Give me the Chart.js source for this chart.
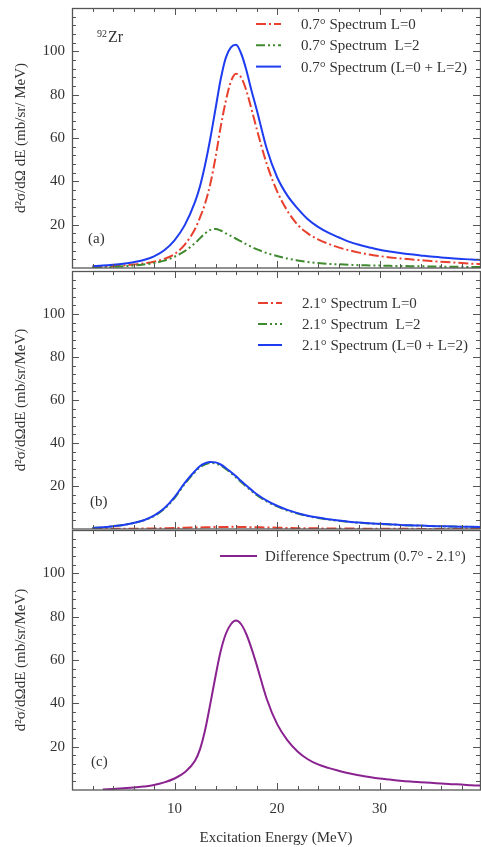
<!DOCTYPE html>
<html>
<head>
<meta charset="utf-8">
<script src="https://cdn.jsdelivr.net/npm/chart.js@4.4.0/dist/chart.umd.min.js"></script>
<style>
  html, body { margin: 0; padding: 0; background: #fff; }
  body { width: 481px; height: 847px; position: relative; overflow: hidden; }
  canvas { position: absolute; left: 0; }
  #chart1 { top: 0; }
  #chart2 { top: 270px; }
  #chart3 { top: 530px; }
</style>
</head>
<body>
<canvas id="chart1" width="481" height="270"></canvas>
<canvas id="chart2" width="481" height="260"></canvas>
<canvas id="chart3" width="481" height="317"></canvas>
<script>
// Excitation energy grid (MeV), finer around the resonance
const energy = [2, 3, 4, 5, 6, 7, 8, 9, 10, 11, 12, 12.5, 13, 13.5, 14, 14.5, 15, 15.5, 16, 16.5, 17, 17.5, 18,
  19, 20, 21, 22, 23, 24, 25, 26, 27, 28, 29, 30, 31, 32, 33, 34, 35, 36, 37, 38, 39, 40];

// 0.7 deg spectra
const l0At07 = [0.5, 0.7, 0.9, 1.2, 1.6, 2.1, 2.9, 4.2, 6.4, 10.8, 18, 23.5, 30, 39, 51, 65, 77, 86, 89.6, 88, 82, 73.5, 64.5,
  48, 35.5, 26.5, 20, 16, 13.2, 11.2, 9.5, 8.2, 7.1, 6.2, 5.5, 4.9, 4.4, 4.0, 3.6, 3.2, 2.9, 2.6, 2.3, 2.0, 1.8];
const l2At07 = [0.2, 0.3, 0.5, 0.8, 1.1, 1.6, 2.3, 3.4, 5.2, 7.8, 11.5, 13.8, 16, 17.6, 18, 17.3, 16, 14.8, 13.5, 12.3, 11, 9.8, 8.7,
  6.9, 5.5, 4.4, 3.5, 2.8, 2.3, 1.9, 1.7, 1.5, 1.3, 1.2, 1.1, 1.0, 0.9, 0.85, 0.8, 0.7, 0.65, 0.6, 0.55, 0.5, 0.5];
const sumAt07 = [0.8, 1.1, 1.5, 2.0, 2.7, 3.7, 5.4, 8.2, 12.8, 19.8, 30.5, 38, 48, 60, 73.5, 87, 97, 101.8, 103, 99, 91.5, 82, 73.4,
  55, 42, 33.5, 27.5, 22.5, 19, 16.3, 14.2, 12.2, 10.7, 9.5, 8.4, 7.6, 6.9, 6.3, 5.8, 5.3, 4.9, 4.5, 4.2, 3.9, 3.7];

// 2.1 deg spectra
const l0At21 = [0, 0.05, 0.1, 0.1, 0.15, 0.2, 0.25, 0.35, 0.45, 0.6, 0.7, 0.75, 0.8, 0.85, 0.9, 0.95, 0.95, 1.0, 1.0, 0.95, 0.9, 0.85, 0.8,
  0.7, 0.6, 0.5, 0.4, 0.35, 0.3, 0.25, 0.2, 0.2, 0.15, 0.15, 0.1, 0.1, 0.1, 0.1, 0.05, 0.05, 0.05, 0.05, 0.05, 0.05, 0.05];
const l2At21 = [0.5, 0.8, 1.3, 1.9, 2.8, 4.0, 6.0, 9.3, 14.4, 21, 26.5, 28.8, 30.1, 30.7, 30.5, 29.5, 27.9, 26.0, 24.0, 21.8, 19.7, 17.7, 15.8,
  12.8, 10.5, 8.6, 7.2, 6.0, 5.1, 4.4, 3.8, 3.3, 2.9, 2.6, 2.3, 2.1, 1.85, 1.65, 1.55, 1.35, 1.25, 1.15, 1.05, 0.95, 0.85];
const sumAt21 = [0.5, 0.8, 1.3, 1.9, 2.8, 4.1, 6.2, 9.6, 14.8, 21.5, 27, 29.3, 30.6, 31.2, 31.0, 30.0, 28.4, 26.5, 24.5, 22.3, 20.2, 18.2, 16.3,
  13.2, 10.8, 8.9, 7.4, 6.2, 5.3, 4.5, 3.9, 3.4, 3.0, 2.7, 2.4, 2.2, 1.9, 1.7, 1.6, 1.4, 1.3, 1.2, 1.1, 1.0, 0.9];

// difference spectrum
const diffSpectrum = [null, 0.2, 0.5, 0.8, 1.1, 1.6, 2.3, 3.5, 5.3, 8.2, 13.5, 19, 28, 40, 52.5, 64, 72, 76.5, 78.2, 76.5, 72, 65.5, 58,
  42, 30.5, 23, 17.8, 14.2, 11.8, 10.2, 8.9, 7.7, 6.8, 6.0, 5.3, 4.8, 4.3, 3.9, 3.6, 3.3, 3.0, 2.7, 2.5, 2.2, 2.0];

const yTicks = [20, 40, 60, 80, 100];
const xTicks = [10, 20, 30];

const serif = 'Liberation Serif, Times New Roman, serif';
const inkColor = '#333';
const frameColor = '#555';

function points(values) {
  return energy.map((e, i) => ({ x: e, y: values[i] }));
}

function series(label, values, color, dash, order) {
  return {
    label: label,
    data: points(values),
    borderColor: color,
    backgroundColor: color,
    borderWidth: 2,
    borderDash: dash,
    pointRadius: 0,
    cubicInterpolationMode: 'monotone',
    order: order,
  };
}

// Box frame with inward minor/major ticks on all four sides, panel labels and legend
const panelDecor = {
  id: 'panelDecor',
  afterDraw(chart, args, opts) {
    const { ctx, chartArea: a, scales: { x, y } } = chart;
    ctx.save();
    ctx.strokeStyle = frameColor;
    ctx.lineWidth = 1;
    for (let v = 0; v <= 40; v += 2) {
      const px = Math.round(x.getPixelForValue(v)) + 0.5;
      if (px <= a.left + 1 || px >= a.right) continue;
      const len = v % 10 === 0 ? 7 : 4;
      ctx.beginPath();
      ctx.moveTo(px, a.bottom); ctx.lineTo(px, a.bottom - len);
      ctx.moveTo(px, a.top); ctx.lineTo(px, a.top + len);
      ctx.stroke();
    }
    for (let v = 0; v <= 120; v += 4) {
      const py = Math.round(y.getPixelForValue(v)) + 0.5;
      if (py <= a.top + 1 || py >= a.bottom - 1) continue;
      const len = v % 20 === 0 ? 7 : 4;
      ctx.beginPath();
      ctx.moveTo(a.left, py); ctx.lineTo(a.left + len, py);
      ctx.moveTo(a.right, py); ctx.lineTo(a.right - len, py);
      ctx.stroke();
    }
    ctx.lineWidth = 1.3;
    ctx.strokeRect(a.left + 0.5, a.top + 0.5, a.right - a.left, a.bottom - a.top - 0.5);

    // panel tag, e.g. (a)
    ctx.fillStyle = inkColor;
    ctx.textBaseline = 'middle';
    ctx.font = '15px ' + serif;
    ctx.fillText(opts.tag, a.left + opts.tagX, a.top + opts.tagY);
    if (opts.nucleus) {
      ctx.textBaseline = 'alphabetic';
      ctx.font = '10px ' + serif;
      ctx.fillText(opts.nucleus[0], a.left + 25, a.top + 29);
      ctx.font = '16px ' + serif;
      ctx.fillText(opts.nucleus[1], a.left + 36, a.top + 34);
    }

    // legend
    ctx.textBaseline = 'middle';
    ctx.font = '15px ' + serif;
    chart.data.datasets.forEach((ds, i) => {
      const ly = a.top + opts.legendY + i * opts.legendGap;
      ctx.strokeStyle = ds.borderColor;
      ctx.lineWidth = ds.borderWidth;
      ctx.setLineDash(ds.borderDash || []);
      ctx.beginPath();
      ctx.moveTo(opts.lineX0, ly);
      ctx.lineTo(opts.lineX1, ly);
      ctx.stroke();
      ctx.setLineDash([]);
      ctx.fillStyle = inkColor;
      ctx.fillText(ds.label, opts.textX, ly + 1);
    });
    ctx.restore();
  }
};

function makeChart(id, datasets, cfg) {
  const ctx = document.getElementById(id).getContext('2d');
  return new Chart(ctx, {
    type: 'line',
    data: { datasets: datasets },
    options: {
      responsive: false,
      animation: false,
      layout: { padding: { top: cfg.padTop, right: 1, left: 0, bottom: 0 } },
      scales: {
        x: {
          type: 'linear',
          min: 0,
          max: 39.8,
          grid: { display: false, drawTicks: false },
          border: { display: false },
          afterBuildTicks: scale => { scale.ticks = xTicks.map(v => ({ value: v })); },
          afterFit: scale => {
            scale.height = cfg.xHeight;
            scale.paddingLeft = 0;
            scale.paddingRight = 0;
          },
          ticks: {
            display: cfg.xLabels,
            padding: 10,
            color: inkColor,
            font: { family: serif, size: 15 },
          },
          title: {
            display: cfg.xLabels,
            text: 'Excitation Energy (MeV)',
            color: inkColor,
            font: { family: serif, size: 15 },
            padding: { top: 0, bottom: 0 },
          },
        },
        y: {
          type: 'linear',
          min: 0,
          max: 120,
          grid: { display: false, drawTicks: false },
          border: { display: false },
          afterBuildTicks: scale => { scale.ticks = yTicks.map(v => ({ value: v })); },
          afterFit: scale => {
            scale.width = 72;
            scale.paddingTop = 0;
            scale.paddingBottom = 0;
          },
          ticks: {
            padding: 7,
            color: inkColor,
            font: { family: serif, size: 15 },
          },
          title: {
            display: true,
            text: cfg.yTitle,
            color: inkColor,
            font: { family: serif, size: 15 },
            padding: { top: 12, bottom: 0 },
          },
        },
      },
      plugins: {
        legend: { display: false },
        tooltip: { enabled: false },
        panelDecor: cfg.decor,
      },
    },
    plugins: [panelDecor],
  });
}

const red = '#e8402e';
const green = '#3f8a2e';
const blue = '#1e3cf0';
const purple = '#8a2290';
const dashDot = [10, 3, 2, 3];
const dashDotDot = [9, 3, 2, 3, 2, 3];

makeChart('chart1', [
  series('0.7° Spectrum L=0', l0At07, red, dashDot, 2),
  series('0.7° Spectrum  L=2', l2At07, green, dashDotDot, 1),
  series('0.7° Spectrum (L=0 + L=2)', sumAt07, blue, [], 0),
], {
  padTop: 8, xHeight: 2, xLabels: false,
  yTitle: 'd²σ/dΩ dE (mb/sr/ MeV)',
  decor: { tag: '(a)', tagX: 16, tagY: 231, nucleus: ['92', 'Zr'],
    legendY: 16, legendGap: 21.3, lineX0: 256, lineX1: 281, textX: 301 },
});

makeChart('chart2', [
  series('2.1° Spectrum L=0', l0At21, red, dashDot, 2),
  series('2.1° Spectrum  L=2', l2At21, green, dashDotDot, 1),
  series('2.1° Spectrum (L=0 + L=2)', sumAt21, blue, [], 0),
], {
  padTop: 1, xHeight: 1, xLabels: false,
  yTitle: 'd²σ/dΩdE (mb/sr/MeV)',
  decor: { tag: '(b)', tagX: 18, tagY: 231,
    legendY: 32, legendGap: 21, lineX0: 258, lineX1: 282, textX: 302 },
});

makeChart('chart3', [
  series('Difference Spectrum (0.7° - 2.1°)', diffSpectrum, purple, [], 0),
], {
  padTop: 0, xHeight: 57, xLabels: true,
  yTitle: 'd²σ/dΩdE (mb/sr/MeV)',
  decor: { tag: '(c)', tagX: 19, tagY: 232,
    legendY: 26, legendGap: 22, lineX0: 220, lineX1: 257, textX: 265 },
});
</script>
</body>
</html>
